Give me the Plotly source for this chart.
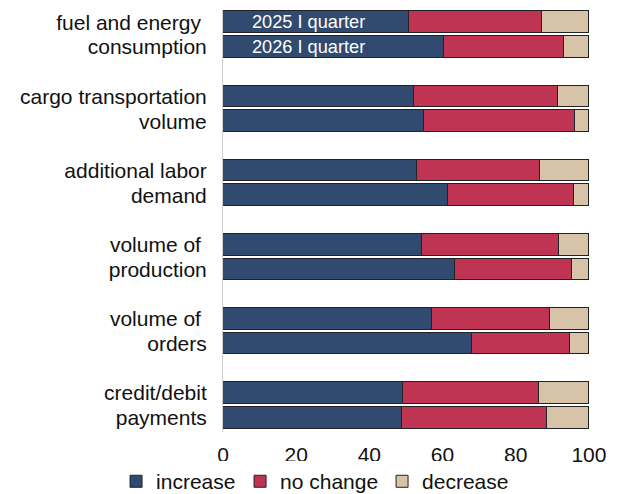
import plotly.graph_objects as go

groups = ["fuel and energy consumption", "cargo transportation volume",
          "additional labor demand", "volume of production",
          "volume of orders", "credit/debit payments"]
label_lines = [["fuel and energy\u00a0", "consumption"],
               ["cargo transportation", "volume"],
               ["additional labor", "demand"],
               ["volume of\u00a0", "production"],
               ["volume of\u00a0", "orders"],
               ["credit/debit", "payments"]]
periods = ["2025 I quarter", "2026 I quarter"]

increase_2025 = [50.8, 52.2, 53.1, 54.4, 57.2, 49.1]
nochange_2025 = [36.5, 39.3, 33.4, 37.5, 32.3, 37.3]
decrease_2025 = [12.7, 8.5, 13.5, 8.1, 10.5, 13.6]
increase_2026 = [60.3, 55.0, 61.4, 63.4, 68.1, 49.0]
nochange_2026 = [32.9, 41.3, 34.4, 31.9, 26.8, 39.6]
decrease_2026 = [6.8, 3.7, 4.2, 4.7, 5.1, 11.4]

series_names = ["increase", "no change", "decrease"]
colors = ["#304B6F", "#C03453", "#D7C4A8"]
legend_widths = [79, 97, 88]

FONT = "Liberation Sans, Arial, sans-serif"

# positions: group g -> 2025 at 3g, 2026 at 3g+1
ypos, inc, noc, dec = [], [], [], []
for g in range(len(groups)):
    ypos += [3 * g, 3 * g + 1]
    inc += [increase_2025[g], increase_2026[g]]
    noc += [nochange_2025[g], nochange_2026[g]]
    dec += [decrease_2025[g], decrease_2026[g]]

fig = go.Figure()
for name, vals, col, lw in zip(series_names, [inc, noc, dec], colors, legend_widths):
    fig.add_trace(go.Bar(
        y=ypos, x=vals, name=name, orientation="h",
        width=0.88,
        marker=dict(color=col, line=dict(color="#222222", width=1)),
        hoverinfo="x+name",
        legendwidth=lw,
    ))

tickvals, ticktext = [], []
for g, lines in enumerate(label_lines):
    tickvals += [3 * g, 3 * g + 1]
    ticktext += lines

annotations = []
for i, p in enumerate(periods):
    annotations.append(dict(x=23.4, y=i, xref="x", yref="y", text=p,
                            showarrow=False,
                            font=dict(family=FONT, size=18.2, color="white")))

fig.update_layout(
    barmode="stack",
    width=614, height=486,
    margin=dict(l=215, r=32, t=2, b=62, autoexpand=False),
    paper_bgcolor="white", plot_bgcolor="white",
    font=dict(family=FONT, size=21, color="#111111"),
    xaxis=dict(range=[0, 100.3], tickvals=[0, 20, 40, 60, 80, 100],
               showgrid=False, zeroline=False, showline=False, ticks="",
               ticklabelstandoff=8, automargin=False),
    yaxis=dict(range=[16.58, -0.5], tickvals=tickvals, ticktext=ticktext,
               showgrid=False, zeroline=False, showline=True,
               linecolor="#D0D0D0", linewidth=1, ticks="",
               ticklabelstandoff=11, automargin=False),
    legend=dict(orientation="h", x=-0.2914, xanchor="left", y=-0.069, yanchor="top",
                font=dict(size=21), traceorder="normal", itemwidth=30),
    annotations=annotations,
    bargap=0,
)
fig.write_html("out.html")
